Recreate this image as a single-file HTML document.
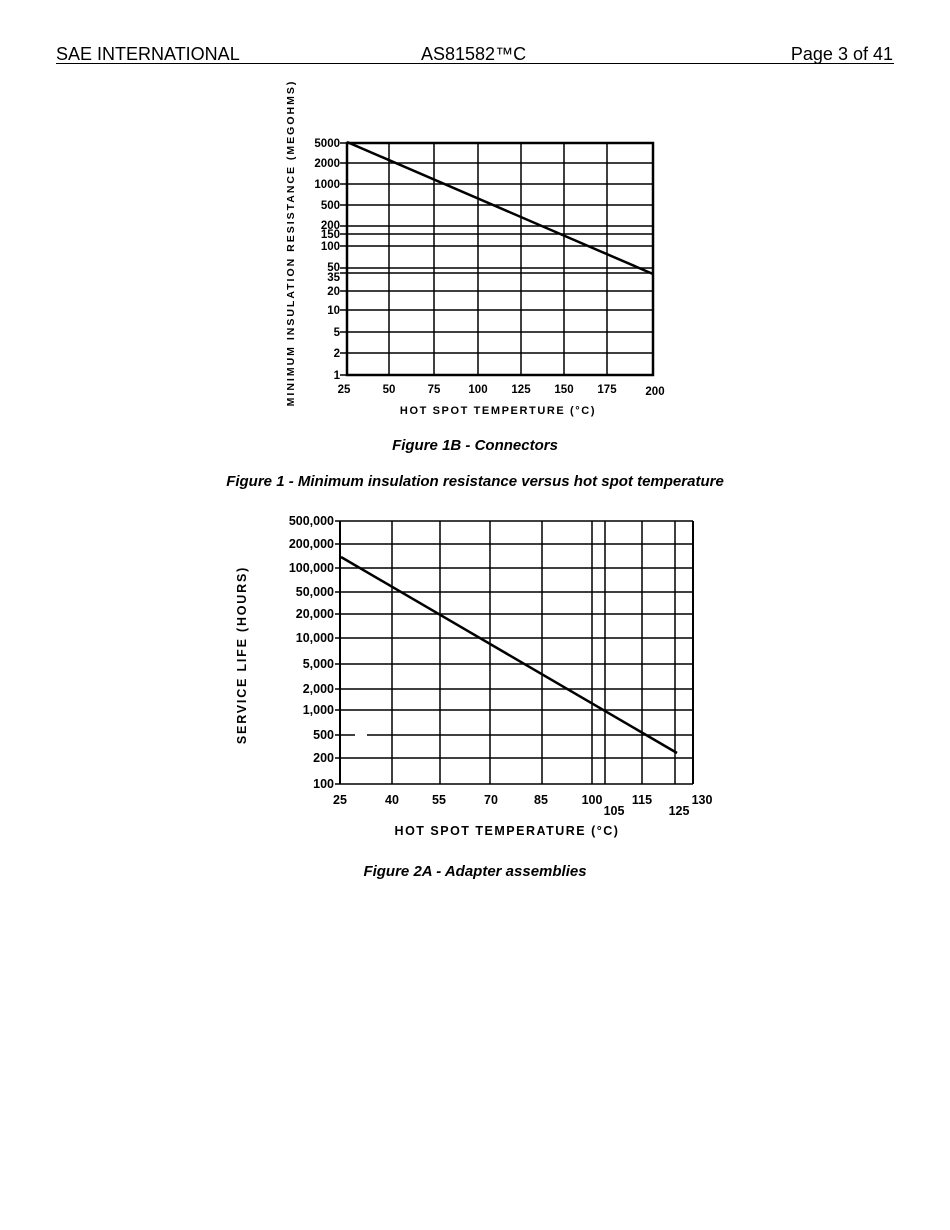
<!DOCTYPE html>
<html><head><meta charset="utf-8"><style>
body{margin:0;background:#fff;width:950px;height:1230px;position:relative;overflow:hidden;font-family:"Liberation Sans",sans-serif}
.h{position:absolute;top:44px;font-size:18px;color:#000}
.c{position:absolute;left:0;width:950px;text-align:center;font-weight:bold;font-style:italic;font-size:15px}
svg{position:absolute;left:0;top:0}
</style></head><body>
<div class="h" style="left:56px">SAE INTERNATIONAL</div>
<div class="h" style="left:421px">AS81582™C</div>
<div class="h" style="right:57px">Page 3 of 41</div>
<div style="position:absolute;left:56px;top:63px;width:838px;height:1px;background:#000"></div>
<div class="c" style="top:437px">Figure 1B - Connectors</div>
<div class="c" style="top:473px">Figure 1 - Minimum insulation resistance versus hot spot temperature</div>
<div class="c" style="top:863px">Figure 2A - Adapter assemblies</div>
<svg width="950" height="1230" font-family="Liberation Sans, sans-serif" font-weight="bold" fill="#000">
<g stroke="#000" stroke-width="1.5">
<line x1="389" y1="143" x2="389" y2="375"/><line x1="434" y1="143" x2="434" y2="375"/><line x1="478" y1="143" x2="478" y2="375"/><line x1="521" y1="143" x2="521" y2="375"/><line x1="564" y1="143" x2="564" y2="375"/><line x1="607" y1="143" x2="607" y2="375"/>
<line x1="340" y1="163" x2="653" y2="163"/><line x1="340" y1="184" x2="653" y2="184"/><line x1="340" y1="205" x2="653" y2="205"/><line x1="340" y1="226" x2="653" y2="226"/><line x1="340" y1="234" x2="653" y2="234"/><line x1="340" y1="246" x2="653" y2="246"/><line x1="340" y1="268" x2="653" y2="268"/><line x1="340" y1="273" x2="653" y2="273"/><line x1="340" y1="291" x2="653" y2="291"/><line x1="340" y1="310" x2="653" y2="310"/><line x1="340" y1="332" x2="653" y2="332"/><line x1="340" y1="353" x2="653" y2="353"/>
<line x1="340" y1="143" x2="346" y2="143"/><line x1="340" y1="375" x2="346" y2="375"/>
</g>
<rect x="347" y="143" width="306" height="232" fill="none" stroke="#000" stroke-width="2.5"/>
<line x1="347" y1="142" x2="653" y2="274" stroke="#000" stroke-width="2.5"/>
<g font-size="11.5" text-anchor="end">
<text x="340" y="147">5000</text><text x="340" y="167">2000</text><text x="340" y="188">1000</text><text x="340" y="209">500</text><text x="340" y="229">200</text><text x="340" y="238">150</text><text x="340" y="250">100</text><text x="340" y="271">50</text><text x="340" y="281">35</text><text x="340" y="295">20</text><text x="340" y="314">10</text><text x="340" y="336">5</text><text x="340" y="357">2</text><text x="340" y="379">1</text>
</g>
<g font-size="11.5" text-anchor="middle">
<text x="344" y="393">25</text><text x="389" y="393">50</text><text x="434" y="393">75</text><text x="478" y="393">100</text><text x="521" y="393">125</text><text x="564" y="393">150</text><text x="607" y="393">175</text><text x="655" y="395">200</text>
<text x="498" y="414" font-size="11" letter-spacing="1.6">HOT SPOT TEMPERTURE (°C)</text>
<text transform="translate(294,243) rotate(-90)" font-size="10.5" letter-spacing="2">MINIMUM INSULATION RESISTANCE (MEGOHMS)</text>
</g>
<g stroke="#000" stroke-width="1.5">
<line x1="392" y1="521" x2="392" y2="784"/><line x1="440" y1="521" x2="440" y2="784"/><line x1="490" y1="521" x2="490" y2="784"/><line x1="542" y1="521" x2="542" y2="784"/><line x1="592" y1="521" x2="592" y2="784"/><line x1="605" y1="521" x2="605" y2="784"/><line x1="642" y1="521" x2="642" y2="784"/><line x1="675" y1="521" x2="675" y2="784"/>
<line x1="335" y1="521" x2="693" y2="521"/><line x1="335" y1="544" x2="693" y2="544"/><line x1="335" y1="568" x2="693" y2="568"/><line x1="335" y1="592" x2="693" y2="592"/><line x1="335" y1="614" x2="693" y2="614"/><line x1="335" y1="638" x2="693" y2="638"/><line x1="335" y1="664" x2="693" y2="664"/><line x1="335" y1="689" x2="693" y2="689"/><line x1="335" y1="710" x2="693" y2="710"/><line x1="335" y1="735" x2="355" y2="735"/><line x1="367" y1="735" x2="693" y2="735"/><line x1="335" y1="758" x2="693" y2="758"/><line x1="335" y1="784" x2="693" y2="784"/>
<line x1="340" y1="521" x2="340" y2="784" stroke-width="2"/><line x1="693" y1="521" x2="693" y2="784" stroke-width="2"/>
</g>
<line x1="341" y1="557" x2="677" y2="753" stroke="#000" stroke-width="2.5"/>
<g font-size="12.5" text-anchor="end">
<text x="334" y="525">500,000</text><text x="334" y="548">200,000</text><text x="334" y="572">100,000</text><text x="334" y="596">50,000</text><text x="334" y="618">20,000</text><text x="334" y="642">10,000</text><text x="334" y="668">5,000</text><text x="334" y="693">2,000</text><text x="334" y="714">1,000</text><text x="334" y="739">500</text><text x="334" y="762">200</text><text x="334" y="788">100</text>
</g>
<g font-size="12.5" text-anchor="middle">
<text x="340" y="804">25</text><text x="392" y="804">40</text><text x="439" y="804">55</text><text x="491" y="804">70</text><text x="541" y="804">85</text><text x="592" y="804">100</text><text x="614" y="815">105</text><text x="642" y="804">115</text><text x="679" y="815">125</text><text x="702" y="804">130</text>
<text x="507" y="835" font-size="12.5" letter-spacing="1.5">HOT SPOT TEMPERATURE (°C)</text>
<text transform="translate(246,655) rotate(-90)" font-size="12.5" letter-spacing="1.8">SERVICE LIFE (HOURS)</text>
</g>
</svg>
</body></html>
